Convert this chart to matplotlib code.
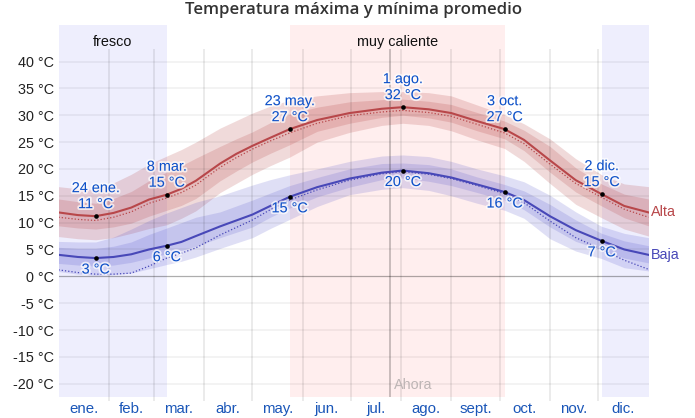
import matplotlib
matplotlib.use("Agg")
import matplotlib.pyplot as plt
import matplotlib.patheffects as pe

# Data (x = day of year)
days = [0, 12, 23, 34, 45, 56, 67, 76, 85, 100, 110, 120, 131, 143, 160, 180, 200, 213, 229, 243, 259, 276, 288, 304, 320, 336, 350, 365]

high = [11.9, 11.4, 11.2, 11.8, 12.8, 14.3, 15.2, 16.3, 17.8, 21.0, 22.8, 24.3, 25.8, 27.4, 29.1, 30.4, 31.2, 31.5, 31.1, 30.4, 28.9, 27.4, 25.4, 21.6, 17.9, 15.3, 13.1, 11.9]
high_dotted = [11.0, 10.6, 10.4, 11.0, 12.0, 13.6, 14.6, 15.6, 17.0, 20.3, 22.1, 23.7, 25.2, 26.7, 28.5, 29.9, 30.6, 30.9, 30.5, 29.8, 28.3, 26.7, 24.7, 20.9, 17.3, 14.7, 12.5, 11.0]
high_q3 = [14.4, 13.9, 13.6, 14.5, 15.8, 17.8, 19.4, 20.6, 22.0, 24.2, 25.6, 26.9, 28.6, 30.2, 31.5, 32.5, 32.9, 33.0, 32.6, 32.0, 30.5, 28.9, 27.2, 24.2, 20.2, 17.2, 15.3, 14.4]
high_q1 = [9.4, 9.0, 8.8, 9.2, 9.9, 11.2, 12.3, 13.2, 14.5, 17.8, 19.6, 21.3, 22.9, 24.5, 27.0, 28.5, 29.6, 30.0, 29.5, 28.7, 27.1, 25.6, 23.4, 19.4, 15.7, 13.1, 10.9, 9.4]
high_p90 = [16.7, 16.3, 16.2, 17.4, 19.0, 20.9, 22.4, 23.6, 25.0, 27.6, 29.0, 30.4, 31.7, 32.8, 33.6, 34.2, 34.4, 34.4, 34.2, 33.6, 31.9, 30.1, 28.4, 25.6, 21.9, 18.9, 17.2, 16.7]
high_p10 = [7.4, 7.0, 6.8, 7.2, 8.0, 8.9, 9.6, 10.8, 12.2, 15.6, 17.3, 19.0, 20.6, 22.2, 25.0, 26.8, 28.1, 28.5, 28.1, 27.1, 25.4, 23.8, 21.4, 17.3, 13.4, 10.9, 8.8, 7.5]

low = [4.0, 3.6, 3.4, 3.6, 4.1, 5.0, 5.7, 6.4, 7.5, 9.3, 10.4, 11.5, 13.1, 14.8, 16.6, 18.2, 19.3, 19.7, 19.2, 18.4, 17.1, 15.7, 14.2, 11.2, 8.6, 6.6, 5.0, 4.0]
low_dotted = [1.2, 0.7, 0.4, 0.4, 0.6, 1.9, 3.4, 4.3, 5.3, 7.7, 9.1, 10.5, 12.4, 14.2, 16.1, 17.9, 19.1, 19.5, 19.0, 18.2, 16.9, 15.4, 13.7, 10.3, 7.2, 5.0, 3.0, 1.3]
low_q3 = [5.4, 5.2, 5.2, 5.6, 6.4, 7.8, 9.0, 10.0, 11.0, 12.0, 13.1, 14.2, 15.5, 16.9, 18.4, 20.0, 21.0, 21.1, 20.8, 20.0, 18.5, 17.1, 15.9, 13.4, 10.5, 8.0, 6.6, 5.7]
low_q1 = [2.4, 2.1, 1.9, 2.1, 2.6, 3.4, 4.2, 4.8, 5.6, 7.2, 8.2, 9.2, 11.0, 12.7, 14.8, 16.6, 18.0, 18.3, 17.7, 16.9, 15.6, 14.2, 12.4, 9.2, 6.5, 4.9, 3.4, 2.5]
low_p90 = [6.5, 6.4, 6.4, 7.3, 8.8, 10.4, 11.8, 12.8, 13.8, 15.0, 16.0, 17.0, 18.0, 18.9, 20.0, 21.4, 22.4, 22.6, 22.3, 21.4, 20.0, 18.7, 17.6, 15.1, 12.0, 9.3, 8.0, 7.2]
low_p10 = [0.9, 0.4, 0.2, 0.3, 0.6, 1.4, 2.2, 2.8, 3.6, 5.2, 6.2, 7.2, 8.9, 10.6, 13.0, 15.2, 16.2, 16.5, 16.0, 15.0, 13.6, 12.3, 10.8, 7.0, 4.7, 3.3, 1.6, 1.0]

month_starts = [31, 59, 90, 120, 151, 181, 212, 243, 273, 304, 334]
month_mids = [15.5, 45, 74.5, 105, 135.5, 166, 196.5, 227.5, 258, 288.5, 319, 349.5]
month_labels = ["ene.", "feb.", "mar.", "abr.", "may.", "jun.", "jul.", "ago.", "sept.", "oct.", "nov.", "dic."]
y_ticks = [-20, -15, -10, -5, 0, 5, 10, 15, 20, 25, 30, 35, 40]

cool_spans = [(0, 67), (336, 365)]
hot_span = (143, 276)
now_day = 205

high_days = [23, 67, 143, 213, 276, 336]
high_vals = [11.2, 15.2, 27.4, 31.5, 27.4, 15.3]
high_dates = ["24 ene.", "8 mar.", "23 may.", "1 ago.", "3 oct.", "2 dic."]
high_text = ["11 °C", "15 °C", "27 °C", "32 °C", "27 °C", "15 °C"]
low_days = [23, 67, 143, 213, 276, 336]
low_vals = [3.4, 5.7, 14.8, 19.7, 15.7, 6.6]
low_text = ["3 °C", "6 °C", "15 °C", "20 °C", "16 °C", "7 °C"]

RED = "#b8474a"
BLUE = "#4848b8"
LABEL_BLUE = "#0d50c8"
W, H = 695, 418


def px(v):
    return v * 0.72


plt.rcParams["font.family"] = ["Liberation Sans", "DejaVu Sans"]
plt.rcParams["font.size"] = 10.4

fig = plt.figure(figsize=(W / 100, H / 100), dpi=100)
ax = fig.add_axes([58.5 / W, 1 - 396.7 / H, 590 / W, 371.7 / H])
ax.set_xlim(0, 365)
ax.set_ylim(-22.42, 46.8)
for s in ax.spines.values():
    s.set_visible(False)

# Season bands
for a, b in cool_spans:
    ax.axvspan(a, b, color="#eeeefd", lw=0, zorder=0)
ax.axvspan(hot_span[0], hot_span[1], color="#ffeeee", lw=0, zorder=0)

# Percentile bands
ax.fill_between(days, high_p10, high_p90, color="#b43c3c", alpha=0.19, lw=0, zorder=1)
ax.fill_between(days, high_q1, high_q3, color="#b43c3c", alpha=0.19, lw=0, zorder=1)
ax.fill_between(days, low_p10, low_p90, color="#4646c8", alpha=0.17, lw=0, zorder=1)
ax.fill_between(days, low_q1, low_q3, color="#4646c8", alpha=0.17, lw=0, zorder=1)

# Grid
for t in y_ticks:
    if t == 0:
        ax.plot([0, 365], [0, 0], color="#000000", alpha=0.32, lw=0.9, zorder=2)
    else:
        ax.plot([0, 365], [t, t], color="#000000", alpha=0.06, lw=1.1, zorder=2)
ax.vlines(month_starts, -23.2, 42.3, color="#000000", alpha=0.1, lw=1.1, zorder=2, clip_on=False)
ax.vlines([now_day], -22.42, 42.3, color="#000000", alpha=0.27, lw=1.1, zorder=2)

# Main and dotted lines
ax.plot(days, high_dotted, color=RED, lw=0.9, ls=(0, (1, 1.6)), zorder=3)
ax.plot(days, low_dotted, color=BLUE, lw=0.9, ls=(0, (1, 1.6)), zorder=3)
ax.plot(days, high, color=RED, lw=1.5, zorder=4)
ax.plot(days, low, color=BLUE, lw=1.5, zorder=4)

# Highlighted points
ax.scatter(high_days + low_days, high_vals + low_vals, s=11, color="black", lw=0, zorder=6)

halo = [pe.withStroke(linewidth=2.6, foreground="white", alpha=0.7)]
for d, v, date, txt in zip(high_days, high_vals, high_dates, high_text):
    ax.annotate(txt, (d, v), xytext=(0, px(12)), textcoords="offset points", ha="center", va="center",
                color=LABEL_BLUE, path_effects=halo, zorder=5)
    ax.annotate(date, (d, v), xytext=(0, px(28)), textcoords="offset points", ha="center", va="center",
                color=LABEL_BLUE, path_effects=halo, zorder=5)
for d, v, txt in zip(low_days, low_vals, low_text):
    ax.annotate(txt, (d, v), xytext=(0, px(-11.5)), textcoords="offset points", ha="center", va="center",
                color=LABEL_BLUE, path_effects=halo, zorder=5)

# Axis labels
ax.set_yticks(y_ticks)
ax.set_yticklabels([f"{t} °C" for t in y_ticks], color="#222222")
ax.tick_params(axis="y", length=0, pad=px(4.5))
ax.set_xticks(month_mids)
ax.set_xticklabels(month_labels, color="#1a56b8", fontsize=10.8)
ax.tick_params(axis="x", length=0, pad=px(5))

# Series names and season names
ax.text(67 / 2, 43.7, "fresco", ha="center", va="center", color="#111111")
ax.text(209.5, 43.7, "muy caliente", ha="center", va="center", color="#111111")
ax.annotate("Alta", (365, high[-1]), xytext=(px(2.5), 0), textcoords="offset points", va="center", color=RED, annotation_clip=False)
ax.annotate("Baja", (365, low[-1]), xytext=(px(2.5), 0), textcoords="offset points", va="center", color=BLUE, annotation_clip=False)
ax.annotate("Ahora", (now_day, -20.2), xytext=(px(4), 0), textcoords="offset points", va="center", color="#bdb5b5", zorder=5)

fig.text(353.5 / W, 1 - 10.5 / H, "Temperatura máxima y mínima promedio", ha="center", va="center",
         fontsize=12.1, family=["Open Sans", "DejaVu Sans"], weight="semibold", color="#333333")

fig.savefig("out.png", dpi=100)
